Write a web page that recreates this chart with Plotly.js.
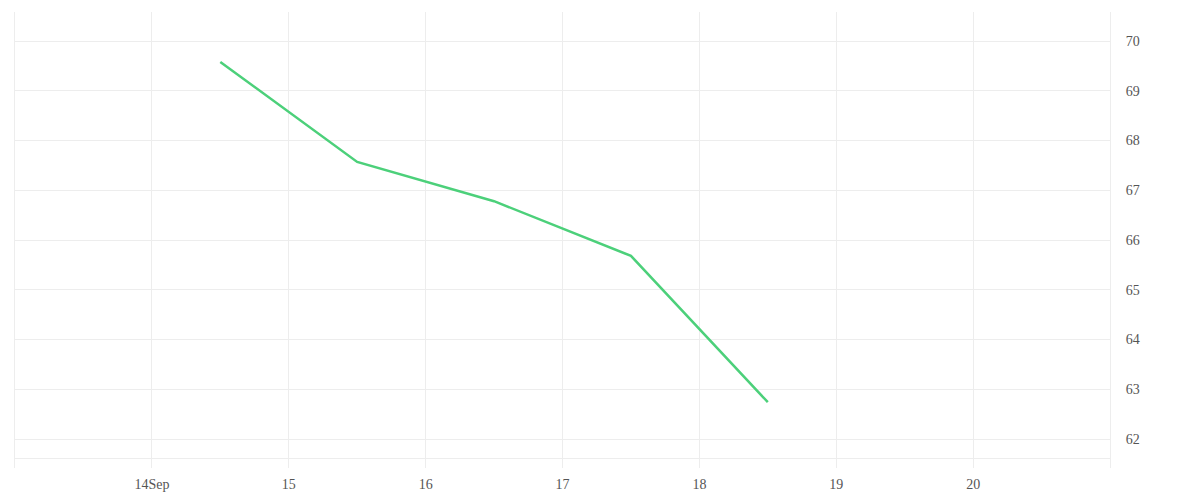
<!DOCTYPE html>
<html>
<head>
<meta charset="utf-8">
<script src="https://cdn.plot.ly/plotly-3.0.1.min.js"></script>
<style>
    html, body { margin: 0; padding: 0; background: #fff; }
    #chart { width: 1200px; height: 500px; }
</style>
</head>
<body>
<div id="chart"></div>
<script>
var days = ['2020-09-14 12:00', '2020-09-15 12:00', '2020-09-16 12:00', '2020-09-17 12:00', '2020-09-18 12:00'];
var values = [69.58, 67.57, 66.78, 65.68, 62.74];

var tickDates = ['2020-09-14', '2020-09-15', '2020-09-16', '2020-09-17', '2020-09-18', '2020-09-19', '2020-09-20'];
var tickLabels = ['14Sep', '15', '16', '17', '18', '19', '20'];

var line =
{
    type: 'scatter',
    mode: 'lines',
    x: days,
    y: values,
    line:
    {
        color: '#4cd07a',
        width: 2.5
    },
    hoverinfo: 'x+y'
};

var layout =
{
    width: 1200,
    height: 500,
    paper_bgcolor: '#fff',
    plot_bgcolor: '#fff',
    showlegend: false,
    font:
    {
        family: 'Liberation Serif, serif',
        size: 14,
        color: '#555'
    },
    margin:
    {
        l: 15,
        r: 90,
        t: 12,
        b: 32
    },
    xaxis:
    {
        type: 'date',
        range: ['2020-09-13', '2020-09-21'],
        tickmode: 'array',
        tickvals: tickDates,
        ticktext: tickLabels,
        showgrid: true,
        gridcolor: '#ededed',
        zeroline: false,
        showline: true,
        linecolor: '#ededed',
        linewidth: 1,
        anchor: 'free',
        position: 0.022,
        ticks: '',
        ticklabelstandoff: 13
    },
    yaxis:
    {
        side: 'right',
        range: [61.417, 70.583],
        dtick: 1,
        tick0: 62,
        showgrid: true,
        gridcolor: '#ededed',
        zeroline: false,
        showline: true,
        mirror: true,
        linecolor: '#ededed',
        linewidth: 1,
        ticks: '',
        ticklabelstandoff: 12
    }
};

var config =
{
    displayModeBar: false,
    staticPlot: true
};

Plotly.newPlot(document.getElementById('chart'), [line], layout, config);
</script>
</body>
</html>
